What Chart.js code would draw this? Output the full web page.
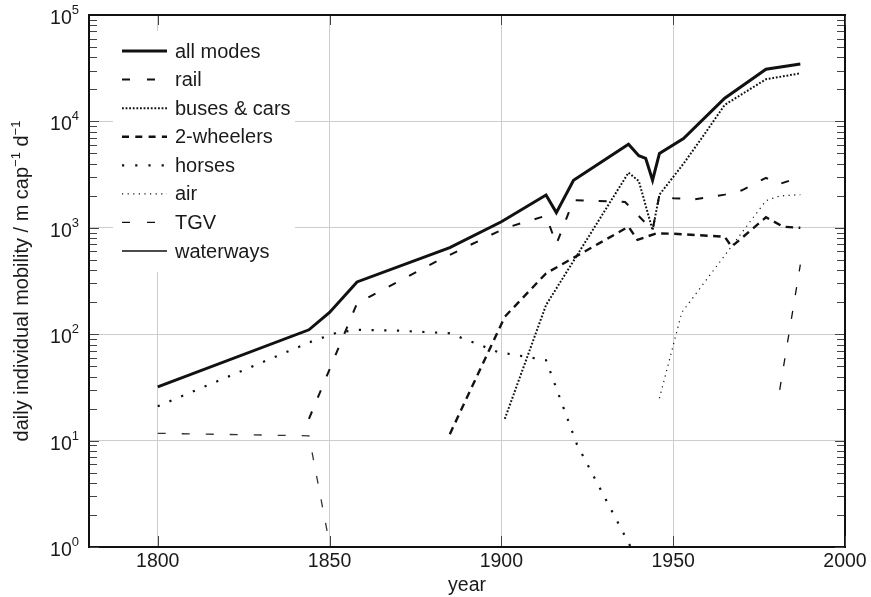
<!DOCTYPE html>
<html><head><meta charset="utf-8">
<script src="https://cdn.jsdelivr.net/npm/chart.js@4.4.1/dist/chart.umd.min.js"></script>
<style>html,body{margin:0;padding:0;background:#fff}</style>
</head><body>
<canvas id="c" width="871" height="597"></canvas>
<script>
// ---- data ----
const xTicks = [1800, 1850, 1900, 1950, 2000];
const yTicks = [1, 10, 100, 1000, 10000, 100000];
const yTickExponents = ['0', '1', '2', '3', '4', '5'];
const seriesNames = ['all modes', 'rail', 'buses & cars', '2-wheelers', 'horses', 'air', 'TGV', 'waterways'];

const allModesYears  = [1800, 1844, 1850, 1858, 1885, 1900, 1913, 1916, 1921, 1937, 1940, 1942, 1944, 1946, 1953, 1965, 1977, 1987];
const allModesValues = [32, 110, 160, 310, 650, 1140, 2030, 1390, 2800, 6100, 4760, 4500, 2800, 5000, 6900, 16500, 30900, 34600];

const railYears  = [1844, 1858, 1882, 1901, 1913, 1916, 1921, 1936, 1944, 1946, 1950, 1956, 1965, 1970, 1977, 1980.5, 1987];
const railValues = [16, 195, 500, 990, 1300, 700, 1820, 1750, 950, 2040, 1900, 1850, 2050, 2250, 2950, 2550, 3000];

const busesYears  = [1901, 1913, 1937, 1940, 1944, 1946, 1953, 1959, 1965, 1977, 1987];
const busesValues = [16, 188, 3300, 2750, 950, 2050, 4000, 7500, 14300, 24900, 28300];

const wheelersYears  = [1885, 1901, 1913, 1937, 1939.6, 1945, 1950, 1965, 1967, 1977, 1982, 1987];
const wheelersValues = [11.5, 146, 373, 1024, 770, 885, 880, 825, 665, 1255, 1024, 1000];

const horsesYears  = [1800, 1845, 1852, 1858, 1870, 1885, 1899, 1913, 1922, 1938];
const horsesValues = [21, 86, 103, 110, 108, 102, 68, 57, 9.2, 0.95];

const airYears  = [1946, 1952.5, 1977, 1981, 1987];
const airValues = [25, 160, 1800, 1990, 2050];

const tgvYears  = [1981, 1987];
const tgvValues = [30, 450];

const waterwaysYears  = [1800, 1844, 1850.3];
const waterwaysValues = [11.7, 11.1, 0.95];

// ---- styles ----
const FONT = "'Liberation Sans', Arial, Helvetica, sans-serif";
const INK = '#111';
const styles = {
  'all modes':    {w: 3,   dash: [],        legendDash: []},
  'rail':         {w: 2,   dash: [8, 15],   legendDash: [8, 17]},
  'buses & cars': {w: 2,   dash: [1.8, 1.8],legendDash: [1.8, 1.8]},
  '2-wheelers':   {w: 2.4, dash: [7.5, 5.5],legendDash: [7, 6.3]},
  'horses':       {w: 2.2, dash: [2.2, 10.5],legendDash: [2.2, 11]},
  'air':          {w: 1.2, dash: [1.2, 4.4],legendDash: [1.2, 4.4]},
  'TGV':          {w: 1.3, dash: [8, 16],   legendDash: [8, 17]},
  'waterways':    {w: 1.3, dash: [8, 16],   legendDash: []}
};

function pts(xs, ys) { return xs.map((v, i) => ({x: v, y: ys[i]})); }
const seriesData = [
  pts(allModesYears, allModesValues),
  pts(railYears, railValues),
  pts(busesYears, busesValues),
  pts(wheelersYears, wheelersValues),
  pts(horsesYears, horsesValues),
  pts(airYears, airValues),
  pts(tgvYears, tgvValues),
  pts(waterwaysYears, waterwaysValues)
];

const datasets = seriesNames.map((name, i) => ({
  label: name,
  data: seriesData[i],
  borderColor: name === 'waterways' ? '#333' : INK,
  borderWidth: styles[name].w,
  borderDash: styles[name].dash,
  borderJoinStyle: 'miter',
  borderCapStyle: 'butt',
  pointRadius: 0,
  tension: 0,
  fill: false
}));

const decor = {
  id: 'decor',
  afterDraw(chart) {
    const {ctx, chartArea: a, scales: {x, y}} = chart;
    ctx.save();
    // legend
    ctx.fillStyle = '#fff';
    ctx.fillRect(a.left + 24, a.top + 16, 182, 241);
    const lx0 = a.left + 33, lx1 = a.left + 78, tx = a.left + 86;
    seriesNames.forEach((name, i) => {
      const yy = a.top + 36 + i * 28.57;
      const st = styles[name];
      ctx.beginPath();
      ctx.setLineDash(st.legendDash);
      ctx.lineWidth = st.w;
      ctx.lineCap = 'butt';
      ctx.strokeStyle = INK;
      ctx.moveTo(lx0, yy); ctx.lineTo(lx1, yy);
      ctx.stroke();
      ctx.setLineDash([]);
      ctx.fillStyle = '#1a1a1a';
      ctx.font = '20px ' + FONT;
      ctx.textAlign = 'left';
      ctx.textBaseline = 'middle';
      ctx.fillText(name, tx, yy + 1);
    });
    // frame
    ctx.setLineDash([]);
    ctx.strokeStyle = INK;
    ctx.lineWidth = 2;
    ctx.strokeRect(a.left, a.top, a.right - a.left, a.bottom - a.top);
    // inner ticks on left/right (log major + minor)
    ctx.lineWidth = 1;
    ctx.strokeStyle = '#444';
    for (let d = 0; d < 5; d++) {
      for (let m = 1; m <= 9; m++) {
        const v = m * Math.pow(10, d);
        const py = Math.round(y.getPixelForValue(v)) + 0.5;
        const len = m === 1 ? 10 : 8;
        ctx.beginPath();
        ctx.moveTo(a.left + 1, py); ctx.lineTo(a.left + len, py);
        ctx.moveTo(a.right - 1, py); ctx.lineTo(a.right - len, py);
        ctx.stroke();
      }
    }
    // x ticks bottom and top
    xTicks.forEach(v => {
      const px = Math.round(x.getPixelForValue(v)) + 0.5;
      ctx.beginPath();
      ctx.moveTo(px, a.bottom - 1); ctx.lineTo(px, a.bottom - 11);
      ctx.moveTo(px, a.top + 1); ctx.lineTo(px, a.top + 10);
      ctx.stroke();
    });
    // x tick labels
    ctx.fillStyle = '#1a1a1a';
    ctx.font = '19.5px ' + FONT;
    ctx.textAlign = 'center';
    ctx.textBaseline = 'alphabetic';
    xTicks.forEach(v => {
      ctx.fillText(String(v), x.getPixelForValue(v), a.bottom + 20);
    });
    // y tick labels 10^n
    yTicks.forEach((v, i) => {
      const py = y.getPixelForValue(v);
      ctx.font = '13px ' + FONT;
      const ws = ctx.measureText(yTickExponents[i]).width;
      ctx.font = '19.5px ' + FONT;
      const wb = ctx.measureText('10').width;
      const right = a.left - 10;
      ctx.textAlign = 'left';
      ctx.fillText('10', right - ws - wb, py + 9);
      ctx.font = '13px ' + FONT;
      ctx.fillText(yTickExponents[i], right - ws, py - 1);
    });
    // x title
    ctx.font = '19.5px ' + FONT;
    ctx.textAlign = 'center';
    ctx.fillText('year', (a.left + a.right) / 2, a.bottom + 44);
    // y title with superscripts
    const parts = [
      ['daily individual mobility / m cap', 20, 0],
      ['\u22121', 13, -8],
      [' d', 20, 0],
      ['\u22121', 13, -8]
    ];
    let total = 0;
    parts.forEach(p => { ctx.font = p[1] + 'px ' + FONT; total += ctx.measureText(p[0]).width; });
    ctx.translate(28, (a.top + a.bottom) / 2);
    ctx.rotate(-Math.PI / 2);
    let cx = -total / 2;
    ctx.textAlign = 'left';
    parts.forEach(p => {
      ctx.font = p[1] + 'px ' + FONT;
      ctx.fillText(p[0], cx, p[2]);
      cx += ctx.measureText(p[0]).width;
    });
    ctx.restore();
  }
};

new Chart(document.getElementById('c'), {
  type: 'line',
  data: {datasets},
  options: {
    responsive: false,
    animation: false,
    devicePixelRatio: 1,
    layout: {padding: {left: 89, right: 26, top: 15, bottom: 50}},
    plugins: {legend: {display: false}, tooltip: {enabled: false}},
    scales: {
      x: {
        type: 'linear', min: 1780, max: 2000,
        afterBuildTicks: s => { s.ticks = xTicks.map(v => ({value: v})); },
        afterFit: s => { s.height = 0; },
        ticks: {display: false},
        grid: {color: '#cdcdcd', lineWidth: 1, drawTicks: false},
        border: {display: false}
      },
      y: {
        type: 'logarithmic', min: 1, max: 100000,
        afterBuildTicks: s => { s.ticks = yTicks.map(v => ({value: v})); },
        afterFit: s => { s.width = 0; },
        ticks: {display: false},
        grid: {color: '#cdcdcd', lineWidth: 1, drawTicks: false},
        border: {display: false}
      }
    }
  },
  plugins: [decor]
});
</script>
</body></html>
